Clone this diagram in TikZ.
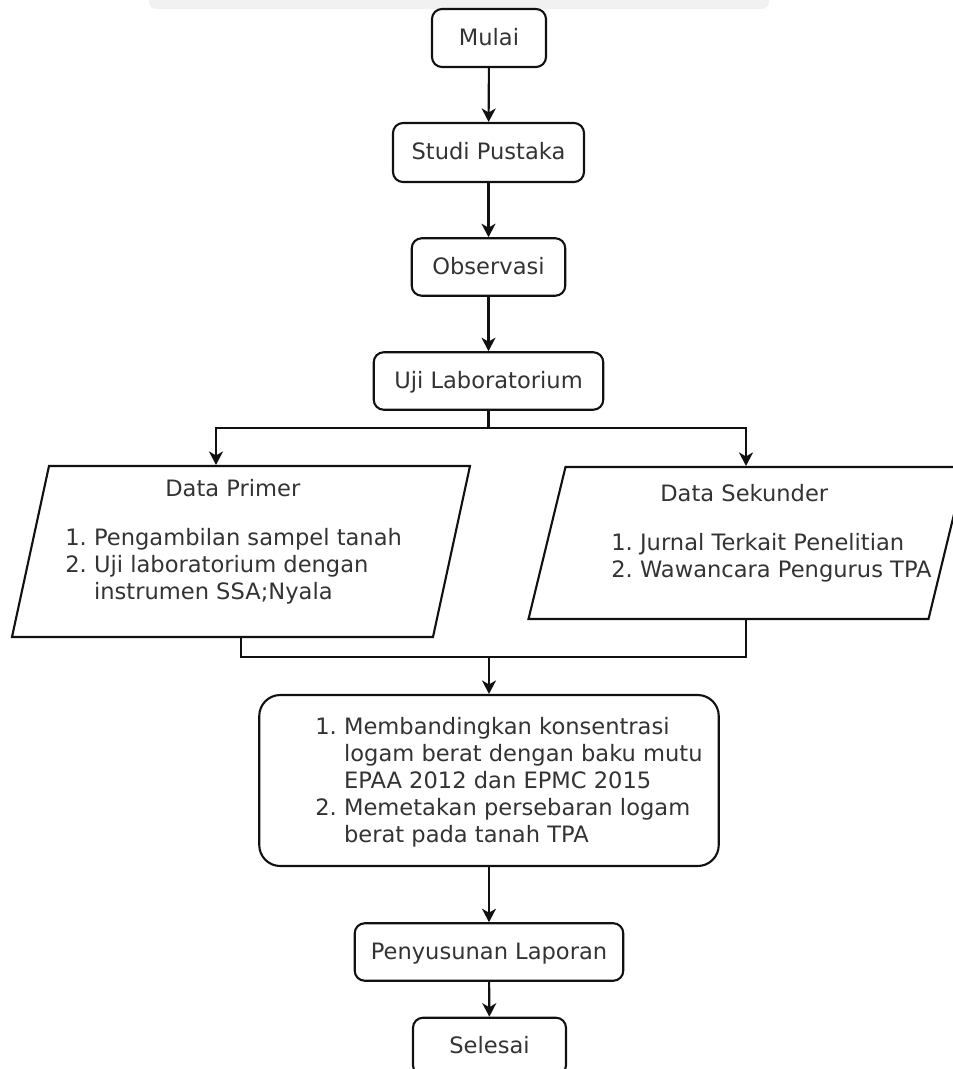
\documentclass[tikz,border=0pt]{standalone}
\usepackage{fontspec}
\setmainfont{DejaVu Sans}
\usepackage{tikz}
\usetikzlibrary{arrows.meta,positioning}
\definecolor{linegray}{HTML}{111111}
\definecolor{textgray}{HTML}{333333}
\definecolor{bandgray}{HTML}{F1F1F1}

\tikzset{
  stepbox/.style={draw=linegray, line width=1.2pt, rounded corners=0.2cm,
    text=textgray, inner sep=0pt, text height=0.4cm, text depth=0.12cm},
  databox/.style={draw=linegray, line width=1.2pt, transform shape, inner sep=0pt},
  listtext/.style={text=textgray, inner sep=0pt, anchor=base west},
  flow/.style={draw=linegray, line width=1.2pt,
    -{Stealth[length=0.27cm, width=0.28cm, inset=0.08cm]}},
  link/.style={draw=linegray, line width=1.2pt},
}

\begin{document}
\begin{tikzpicture}[every node/.style={font=\fontsize{12.85}{15.4}\selectfont}]
  \useasboundingbox (0,0) rectangle (19.06,-21.38);
  \clip (0,0) rectangle (19.06,-21.38);

  % grey strip along the top edge
  \fill[bandgray, rounded corners=0.15cm] (2.98,0.4) rectangle (15.38,-0.18);

  \node[stepbox, minimum width=2.28cm, minimum height=1.16cm] (mulai) at (9.78,-0.76) {Mulai};
  \node[stepbox, minimum width=3.82cm, minimum height=1.18cm] (studi) at (9.77,-3.05) {Studi Pustaka};
  \node[stepbox, minimum width=3.07cm, minimum height=1.15cm] (observasi) at (9.77,-5.34) {Observasi};
  \node[stepbox, minimum width=4.59cm, minimum height=1.15cm] (ujilab) at (9.77,-7.62) {Uji Laboratorium};

  \draw[flow] (mulai) -- (studi);
  \draw[flow] (studi) -- (observasi);
  \draw[flow] (observasi) -- (ujilab);

  % data boxes (slanted rectangles)
  \begin{scope}[shift={(4.82,-11.03)}, xslant=0.2164]
    \node[databox, minimum width=8.42cm, minimum height=3.42cm] (primer) at (0,0) {};
  \end{scope}
  \node[text=textgray, inner sep=0pt, anchor=base west] (primerjudul) at (3.30,-9.92) {Data Primer};
  \node[listtext] (primerisi) at (1.30,-10.90)
    {\begin{tabular}[t]{@{}r@{\ }l@{}}
       1. & Pengambilan sampel tanah\\
       2. & Uji laboratorium dengan\\
          & instrumen SSA;Nyala
     \end{tabular}};

  \begin{scope}[shift={(14.94,-10.86)}, xslant=0.2434]
    \node[databox, minimum width=8.0cm, minimum height=3.04cm] (sekunder) at (0,0) {};
  \end{scope}
  \node[text=textgray, inner sep=0pt, anchor=base west] (sekunderjudul) at (13.20,-10.02) {Data Sekunder};
  \node[listtext] (sekunderisi) at (12.22,-11.00)
    {\begin{tabular}[t]{@{}r@{\ }l@{}}
       1. & Jurnal Terkait Penelitian\\
       2. & Wawancara Pengurus TPA
     \end{tabular}};

  \coordinate (cabangL) at (4.32,-8.56);
  \coordinate (cabangR) at (14.92,-8.56);
  \draw[flow] (ujilab.south) |- (cabangL) -- (cabangL |- primer.north);
  \draw[flow] (ujilab.south) |- (cabangR) -- (cabangR |- sekunder.north);

  % analysis box
  \node[stepbox, rounded corners=0.42cm, minimum width=9.19cm, minimum height=3.42cm]
    (analisis) at (9.78,-15.61) {};
  \node[listtext] (analisisisi) at (6.30,-14.68)
    {\begin{tabular}[t]{@{}r@{\ }l@{}}
       1. & Membandingkan konsentrasi\\
          & logam berat dengan baku mutu\\
          & EPAA 2012 dan EPMC 2015\\
       2. & Memetakan persebaran logam\\
          & berat pada tanah TPA
     \end{tabular}};

  \coordinate (gabungL) at (4.82,-13.14);
  \coordinate (gabungR) at (14.92,-13.14);
  \draw[link] (gabungL |- primer.south) -- (gabungL) -- (gabungR) -- (gabungR |- sekunder.south);
  \draw[flow] (gabungL -| analisis.north) -- (analisis.north);

  \node[stepbox, minimum width=5.37cm, minimum height=1.15cm] (laporan) at (9.78,-19.04) {Penyusunan Laporan};
  \node[stepbox, minimum width=3.06cm, minimum height=1.15cm] (selesai) at (9.79,-20.93) {Selesai};

  \draw[flow] (analisis) -- (laporan);
  \draw[flow] (laporan) -- (selesai);
\end{tikzpicture}
\end{document}
